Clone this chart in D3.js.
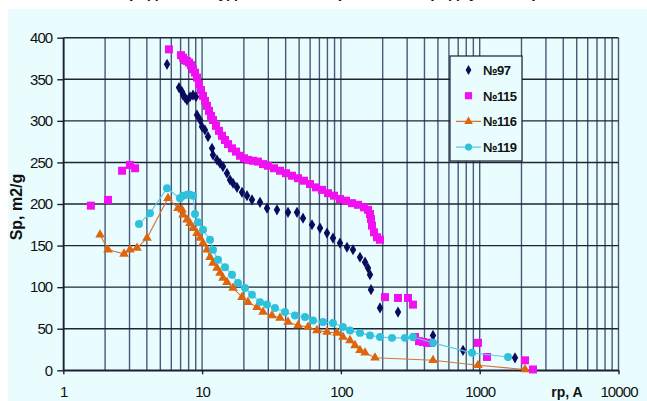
<!DOCTYPE html>
<html>
<head>
<meta charset="utf-8">
<script src="https://cdn.jsdelivr.net/npm/d3@7/dist/d3.min.js"></script>
<style>
  html, body { margin: 0; padding: 0; background: #ffffff; }
  svg { display: block; }
  text { font-family: "Liberation Sans", Arial, sans-serif; fill: #111; }
</style>
</head>
<body>
<svg id="chart" width="647" height="401"></svg>
<script>
// Pore radius (A) and specific surface (m2/g) for each sample
const r97 = [5.59, 6.82, 7.17, 7.29, 7.53, 7.78, 8.18, 8.6, 9.04, 9.19, 9.66, 9.98, 10.49, 11.03, 11.79, 11.98, 12.8, 13.46, 14.14, 15.11, 15.89, 16.7, 17.84, 19.39, 21.06, 22.88, 26.13, 29.35, 34.64, 41.59, 48.29, 53.33, 61.92, 70.71, 79.39, 87.7, 98.51, 110.6, 122.2, 137.3, 149.2, 156.7, 162.0, 164.8, 191.3, 257.9, 460.8, 758, 1796];
const s97 = [368, 340, 335, 331, 328, 325, 329, 331, 329, 307, 301, 293, 289, 281, 267, 259, 253, 249, 245, 237, 229, 225, 220, 214, 210, 205, 202, 195, 193, 190, 190, 183, 175, 171, 165, 159, 153, 148, 145, 136, 130, 123, 115, 97, 75, 70, 42, 24, 15];

const r115 = [1.58, 2.1, 2.65, 3.02, 3.29, 5.77, 7.05, 7.29, 7.53, 7.78, 8.05, 8.32, 8.6, 8.89, 9.19, 9.5, 9.82, 10.15, 10.49, 10.85, 11.21, 11.59, 11.98, 12.59, 13.24, 13.91, 14.62, 15.37, 16.42, 17.55, 18.75, 20.04, 21.41, 23.26, 25.27, 27.47, 29.84, 32.96, 36.4, 40.23, 44.43, 49.09, 54.22, 59.9, 66.16, 73.09, 80.72, 89.17, 98.51, 108.8, 120.2, 132.8, 146.7, 156.7, 162.0, 164.8, 167.5, 173.2, 182.0, 191.3, 207.9, 257.9, 304.4, 330.7, 341.9, 365.3, 390.4, 417.2, 445.8, 972, 1129, 2121, 2421];
const s115 = [198, 205, 240, 247, 243, 386, 379, 376, 373, 372, 370, 367, 362, 358, 352, 344, 337, 330, 324, 318, 312, 306, 301, 294, 288, 282, 277, 272, 267, 263, 258, 255, 253, 252, 251, 248, 246, 243, 240, 237, 234, 231, 228, 224, 220, 217, 213, 210, 206, 204, 201, 199, 196, 193, 188, 182, 174, 166, 160, 157, 88, 87, 87, 79, 40, 35, 34, 33, 33, 33, 16, 12, 1];

const r116 = [1.84, 2.1, 2.74, 3.02, 3.4, 4.01, 5.68, 6.71, 7.17, 7.29, 7.78, 8.18, 8.6, 9.19, 9.66, 10.15, 10.85, 11.4, 11.98, 12.8, 13.46, 14.14, 15.11, 16.7, 19.39, 21.41, 24.86, 27.47, 31.89, 36.4, 41.59, 49.09, 57.94, 67.26, 79.39, 93.73, 103.5, 116.3, 126.3, 137.3, 149.2, 176.1, 460.8, 972, 2121];
const s116 = [163, 145, 140, 145, 147, 159, 207, 195, 193, 187, 181, 177, 171, 165, 159, 153, 145, 136, 129, 123, 117, 111, 106, 99, 88, 82, 76, 70, 66, 63, 58, 54, 52, 48, 46, 45, 40, 36, 30, 24, 21, 15, 12, 6, 1];

const r119 = [3.51, 4.21, 5.59, 6.93, 7.29, 7.78, 8.18, 8.6, 8.89, 9.34, 10.15, 11.4, 11.98, 13.02, 14.62, 16.42, 18.14, 20.37, 22.88, 26.13, 29.35, 33.51, 39.57, 46.7, 55.12, 62.95, 74.3, 87.7, 103.5, 116.3, 137.3, 162.0, 191.3, 233.4, 289.6, 330.7, 460.8, 880, 1600];
const s119 = [176, 189, 219, 207, 210, 211, 211, 210, 188, 178, 169, 157, 145, 133, 124, 115, 105, 99, 91, 82, 79, 75, 70, 66, 64, 60, 58, 57, 52, 48, 45, 42, 40, 39, 39, 40, 33, 21, 16];

const xTickValues = [1, 10, 100, 1000, 10000];
const yTickValues = [0, 50, 100, 150, 200, 250, 300, 350, 400];
const seriesNames = ["№97", "№115", "№116", "№119"];

const svg = d3.select("#chart");
const W = 647, H = 401;

// light cyan backdrop panel
svg.append("rect").attr("x", 8).attr("y", 9).attr("width", W - 8).attr("height", H - 9)
  .attr("fill", "#e9fdfe");

// title (runs off the top edge)
svg.append("text").attr("x", 316).attr("y", -2).attr("text-anchor", "middle")
  .style("font-size", "16px").style("font-weight", "bold")
  .text("Распределение удельной поверхности по радиусам пор");

const x = d3.scaleLog().domain([1, 10000]).range([63.3, 618.5]);
const y = d3.scaleLinear().domain([0, 400]).range([370.3, 37.7]);

// grid
const grid = svg.append("g");
grid.selectAll("line.v").data(x.ticks()).join("line")
  .attr("x1", d => x(d)).attr("x2", d => x(d))
  .attr("y1", y(400)).attr("y2", y(0))
  .attr("stroke", "#4b5877").attr("stroke-width", 1.4);
grid.selectAll("line.h").data(yTickValues).join("line")
  .attr("x1", x(1)).attr("x2", x(10000))
  .attr("y1", d => y(d)).attr("y2", d => y(d))
  .attr("stroke", "#1f2535").attr("stroke-width", 1.4);

// axes
const yAxis = svg.append("g").attr("transform", `translate(${x(1)},0)`)
  .call(d3.axisLeft(y).tickValues(yTickValues).tickSize(6).tickSizeOuter(0).tickPadding(5));
const xAxis = svg.append("g").attr("transform", `translate(0,${y(0)})`)
  .call(d3.axisBottom(x).tickValues(xTickValues).tickFormat(d3.format("d")).tickSize(4).tickSizeOuter(0).tickPadding(12));
[yAxis, xAxis].forEach(a => {
  a.select(".domain").attr("stroke", "#1a1f2e").attr("stroke-width", 1.6);
  a.selectAll(".tick line").attr("stroke", "#1a1f2e").attr("stroke-width", 1.4);
  a.selectAll(".tick text").style("font-size", "15px").style("letter-spacing", "-0.9px")
    .attr("fill", "#111").style("font-family", "'Liberation Sans', Arial, sans-serif");
});

// axis titles
svg.append("text").attr("transform", "translate(22,207) rotate(-90)").attr("text-anchor", "middle")
  .style("font-size", "16px").style("font-weight", "bold").text("Sp, m2/g");
svg.append("text").attr("x", 567).attr("y", 397).attr("text-anchor", "middle")
  .style("font-size", "14px").style("font-weight", "bold").text("rp, A");

const pts = (rs, ss) => rs.map((r, i) => [r, ss[i]]);
const line = d3.line().x(d => x(d[0])).y(d => y(d[1]));

const series = [
  { data: pts(r97, s97), color: "#0b0b5e", sym: d3.symbolDiamond, size: 36, line: null },
  { data: pts(r115, s115), color: "#f010f0", sym: d3.symbolSquare, size: 64, line: null },
  { data: pts(r116, s116), color: "#e0640c", sym: d3.symbolTriangle, size: 40, line: "#d2743c" },
  { data: pts(r119, s119), color: "#2fc0dc", sym: d3.symbolCircle, size: 50, line: "#62c8ea" }
];

series.forEach(s => {
  const g = svg.append("g");
  if (s.line) {
    g.append("path").attr("d", line(s.data)).attr("fill", "none")
      .attr("stroke", s.line).attr("stroke-width", 1.1);
  }
  g.selectAll("path.m").data(s.data).join("path").attr("class", "m")
    .attr("transform", d => `translate(${x(d[0])},${y(d[1])})`)
    .attr("d", d3.symbol().type(s.sym).size(s.size))
    .attr("fill", s.color);
});

// legend
const lg = svg.append("g");
lg.append("rect").attr("x", 450).attr("y", 56).attr("width", 72).attr("height", 105)
  .attr("fill", "#e9fdfe").attr("stroke", "#1a1f2e").attr("stroke-width", 1.2);
seriesNames.forEach((name, i) => {
  const s = series[i];
  const cy = 70 + i * 25.7;
  if (s.line) {
    lg.append("line").attr("x1", 456).attr("x2", 481).attr("y1", cy).attr("y2", cy)
      .attr("stroke", s.line).attr("stroke-width", 1.3);
  }
  lg.append("path").attr("transform", `translate(468.5,${cy})`)
    .attr("d", d3.symbol().type(s.sym).size(s.size * 0.8)).attr("fill", s.color);
  lg.append("text").attr("x", 483).attr("y", cy + 5)
    .style("font-size", "13px").style("font-weight", "bold").style("letter-spacing", "-0.5px")
    .text(name);
});
</script>
</body>
</html>
